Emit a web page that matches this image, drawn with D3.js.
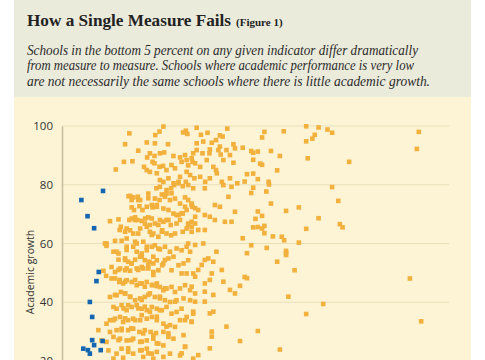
<!DOCTYPE html>
<html><head><meta charset="utf-8">
<script src="https://cdn.jsdelivr.net/npm/d3@7"></script>
<style>
html,body{margin:0;padding:0;background:#fff;}
svg{display:block;}
</style></head>
<body>
<svg id="chart" width="485" height="360"></svg>
<script>
const titleText = "How a Single Measure Fails";
const figText = "(Figure 1)";
const subtitleLines = [
  "Schools in the bottom 5 percent on any given indicator differ dramatically",
  "from measure to measure. Schools where academic performance is very low",
  "are not necessarily the same schools where there is little academic growth."
];
const yLabel = "Academic growth";
const yTicks = [20, 40, 60, 80, 100];

// bottom 5 percent on performance (blue)
const lowPerformance = [
  [5.0,74.8],[10.6,77.9],[6.6,69.3],[8.3,65.2],[9.5,50.3],[8.9,47.2],[7.2,40.1],
  [7.8,35.0],[7.8,27.1],[10.5,26.8],[8.3,25.4],[5.5,24.2],[6.7,23.7],[7.2,22.5],[10.0,23.7]
];

// all other schools (orange)
const otherSchools = [
  [26.2,99.8],[17.4,97.5],[24.1,96.9],[25.2,98.1],[31.3,97.8],[32.0,98.4],[32.4,97.3],[34.8,99.4],
  [35.9,97.0],[37.6,97.7],[40.8,96.8],[41.5,96.4],[42.7,99.1],[24.0,94.1],[27.4,93.8],[16.3,93.8],
  [21.9,94.4],[34.8,94.1],[36.5,94.7],[38.7,94.3],[39.8,95.2],[44.3,93.8],[40.8,93.0],[44.7,92.4],
  [19.7,91.6],[22.7,90.7],[22.0,89.3],[23.9,89.8],[25.3,90.7],[26.4,91.0],[28.8,89.8],[30.5,89.3],
  [31.8,90.1],[33.5,89.0],[33.9,90.7],[34.8,91.8],[36.3,90.7],[38.1,90.7],[38.2,92.0],[40.4,91.8],
  [41.0,90.3],[42.5,91.8],[43.4,90.1],[16.0,87.8],[18.2,88.0],[21.2,86.1],[23.4,87.8],[23.9,87.3],
  [25.2,86.1],[26.1,86.4],[27.0,85.0],[28.3,86.7],[29.2,85.6],[30.9,87.8],[32.2,88.4],[32.6,86.6],
  [33.7,87.8],[34.4,87.3],[35.7,86.1],[37.4,88.4],[39.1,86.1],[39.8,85.0],[41.7,88.4],[44.3,87.5],
  [13.9,85.2],[21.9,85.0],[22.7,84.4],[24.5,83.9],[25.3,81.6],[26.2,81.0],[27.5,82.2],[28.8,80.5],
  [30.1,81.0],[30.5,82.7],[32.2,84.4],[33.1,83.3],[34.2,82.2],[35.7,82.7],[37.0,81.0],[38.2,82.2],
  [40.0,83.9],[41.3,81.0],[43.4,82.2],[45.3,80.5],[24.4,78.8],[27.0,78.2],[28.2,78.8],[29.0,79.9],
  [31.2,79.5],[32.6,79.9],[33.9,78.8],[32.0,81.0],
  [17.2,76.1],[18.4,75.7],[19.6,75.9],[18.0,74.8],[20.2,74.8],[22.3,77.0],[24.0,75.3],[25.2,74.8],
  [25.8,76.7],[26.6,75.9],[27.0,77.0],[27.9,74.8],[29.2,75.3],[30.5,73.6],[31.8,75.7],[32.6,74.8],
  [33.5,73.6],
  [12.4,67.6],[14.6,68.2],[18.0,72.3],[18.6,71.4],[20.0,72.7],[20.8,71.4],[21.9,72.5],[23.2,73.1],
  [23.4,72.3],[24.5,72.5],[26.2,71.9],[27.5,71.4],[28.8,70.2],[30.1,69.7],[31.2,70.2],[32.2,71.4],
  [33.7,72.5],
  [17.4,68.0],[18.0,68.5],[18.9,68.9],[19.5,68.0],[20.6,67.7],[21.5,68.5],[22.3,68.9],[23.2,68.5],
  [24.0,66.8],[25.3,68.0],[26.2,67.4],[27.0,68.0],[28.1,66.3],[29.6,66.8],[30.5,68.0],[32.6,66.8],
  [33.5,67.4],[15.2,65.7],
  [16.3,64.0],[17.6,64.5],[18.4,63.4],[20.2,65.1],[21.9,65.7],[22.7,64.0],[23.6,63.4],[24.9,62.3],
  [25.9,64.5],[27.0,63.4],[28.2,62.8],[29.2,63.4],[31.2,64.0],[32.2,65.1],[33.5,64.0],
  [11.1,60.0],[11.5,59.2],[13.7,60.9],[15.4,60.9],
  [16.7,61.7],[19.3,60.0],[21.0,60.6],
  [13.3,57.2],[14.6,56.6],[16.7,58.9],[18.4,58.9],[19.3,57.2],[20.6,56.6],[21.9,57.7],[23.2,58.9],
  [24.0,59.4],[25.3,58.0],[26.6,58.9],[27.9,57.2],[29.6,58.3],[30.9,57.7],[32.2,58.9],[33.1,57.2],
  [14.6,54.5],[16.3,54.9],
  [17.1,53.8],[18.0,53.2],[18.9,54.5],[20.2,55.5],[21.4,54.3],[22.6,53.8],[23.6,55.5],[24.5,54.3],
  [26.2,53.2],[27.5,54.9],[28.8,55.5],[30.1,52.6],[31.4,53.2],[32.6,54.3],
  [12.8,52.0],[13.7,50.3],[15.0,51.5],[16.3,50.9],[17.6,50.7],
  [19.3,51.5],[20.6,52.0],[22.3,51.5],[23.6,50.3],[24.9,50.9],[25.9,52.6],[28.3,50.9],[30.9,49.8],
  [33.9,49.8],
  [10.7,50.7],[11.4,49.0],[13.7,48.1],[14.8,46.9],[15.8,46.4],[16.7,47.5],[18.0,46.9],[19.3,45.8],
  [20.6,46.4],[21.9,46.9],[23.4,45.8],[24.5,46.4],[25.3,45.2],[26.2,44.1],[27.0,44.7],[28.3,45.2],
  [29.2,43.5],[30.5,44.7],[31.8,45.8],[33.1,44.1],[12.4,41.8],[14.1,42.4],[15.2,43.5],[16.3,43.0],
  [17.6,41.8],[18.9,40.7],
  [20.2,41.3],[21.4,41.8],[22.7,43.0],[24.0,41.8],[25.3,41.3],[26.6,40.7],[27.9,40.1],[29.6,40.7],
  [31.4,41.3],[33.1,40.7],
  [13.3,38.4],[14.1,37.8],[15.4,39.0],[16.7,37.3],[18.0,38.4],[19.3,39.0],[20.6,37.8],[21.9,37.3],
  [23.2,38.4],[24.5,37.8],[25.8,37.3],[27.0,38.4],[28.3,36.1],[29.6,36.7],[30.9,37.8],[32.2,35.0],
  [33.9,36.1],[11.5,32.7],[12.4,33.9],[13.7,34.4],[15.0,35.0],
  [15.8,33.3],[17.1,33.9],[18.4,34.4],[20.2,33.9],[21.9,34.4],[23.2,35.0],[24.5,33.9],[26.2,32.7],
  [27.9,32.2],[29.2,31.6],[30.5,33.9],[33.5,33.3],[9.4,30.5],[12.4,29.9],
  [14.1,30.5],[15.4,31.0],[17.1,30.5],[18.4,31.0],[20.0,29.9],[21.4,30.5],[22.9,29.9],[24.3,29.5],
  [26.2,29.9],[27.5,28.2],[28.8,27.6],
  [10.2,27.0],[11.5,26.5],[13.3,28.2],[15.0,27.6],[16.7,27.0],[18.4,27.6],[20.2,26.5],[21.9,27.0],
  [23.6,27.6],[24.9,25.9],[26.2,25.3],[31.8,24.8],[12.0,23.6],[14.1,22.5],
  [15.4,24.2],[17.1,23.1],[18.4,22.5],[20.2,23.6],[21.9,24.2],[23.2,22.5],[24.5,23.1],[26.2,21.4],
  [27.9,22.5],[30.5,21.9],[33.9,20.8],[13.3,20.8],[15.8,21.1],[21.0,21.4],[23.6,20.8],
  // dense core, second reading
  [17.6,76.2],[19.7,74.8],[22.3,75.4],[24.5,73.1],[26.6,76.5],[28.3,77.1],[25.3,79.3],[30.1,80.5],
  [18.9,68.0],[21.4,66.8],[22.7,66.3],[24.9,66.3],[27.5,68.0],[29.6,69.7],[14.9,64.6],[16.7,65.1],
  [19.7,63.4],[23.2,62.9],[25.8,64.0],[11.5,60.0],[14.1,57.2],[16.7,57.8],[18.9,60.6],[21.9,58.9],
  [24.9,58.3],[16.3,54.4],[17.9,53.2],[20.6,55.5],[22.3,52.7],[23.6,53.2],[26.6,54.4],[14.6,51.0],
  [16.7,51.5],[19.7,51.0],[21.0,51.5],[23.6,49.3],[12.8,48.1],[14.9,47.6],[16.3,47.0],[18.9,47.6],
  [20.2,46.4],[21.4,45.3],[23.2,45.9],[24.5,45.5],[26.6,44.7],[13.7,42.5],[16.3,43.0],[17.6,41.9],
  [20.6,40.8],[22.3,42.5],[25.3,41.9],[29.2,40.2],[15.9,37.9],[17.1,39.0],[19.7,37.9],[21.4,38.5],
  [22.7,36.8],[25.3,37.3],[13.3,33.9],[16.3,34.5],[18.9,33.9],[20.6,35.6],[24.5,35.1],[27.0,31.7],
  [15.4,30.5],[17.9,31.1],[21.0,29.4],[23.6,28.8],[27.5,29.4],[14.6,27.1],[17.9,27.1],[20.6,26.6],
  [24.5,26.0],[17.1,24.3],[20.6,23.7],[22.3,22.6],
  // middle band
  [36.9,78.8],[41.7,79.9],[43.8,79.3],[43.0,75.9],[39.5,73.1],[40.8,72.5],[34.4,72.0],[31.8,72.5],
  [33.5,73.1],[35.2,71.4],[44.7,70.8],[36.9,69.7],[38.2,69.1],[39.5,68.0],[42.1,67.4],[43.8,67.4],
  [34.4,66.8],[32.6,66.3],[33.5,65.7],[35.2,64.6],[36.9,64.6],[30.9,70.3],[34.4,69.1],[32.6,60.0],
  [34.4,59.5],[36.5,60.0],[39.9,57.2],[37.8,54.9],[39.1,53.8],[41.3,51.0],[36.9,54.4],[36.1,52.7],
  [35.2,51.0],[34.4,48.7],[32.2,49.8],[38.7,49.8],[38.2,47.6],[36.9,46.4],[41.7,47.0],[43.4,44.2],
  [33.5,45.3],[34.4,43.0],[36.9,43.6],[39.1,42.5],[44.7,43.0],[34.4,40.2],[36.9,40.2],[38.2,36.2],
  [39.1,36.8],[33.9,36.8],[33.5,33.4],[42.5,31.7],[31.8,33.9],[31.4,28.8],[38.7,30.0],[38.7,28.3],
  [31.8,24.9],[38.2,24.3],[35.2,22.0],[30.9,22.6],
  // right-hand, sparser part
  [46.7,92.6],[48.9,91.5],[49.4,90.9],[50.6,91.3],[51.7,96.1],[52.3,98.0],[57.3,98.2],[63.1,99.9],
  [66.3,99.5],[68.6,98.8],[69.8,97.7],[65.3,97.0],[64.7,95.7],[63.1,94.8],[54.0,91.5],[56.3,89.8],
  [49.4,88.5],[51.2,87.2],[51.7,86.8],[63.5,89.0],[74.2,87.8],[55.6,84.9],[47.8,83.6],[49.4,83.8],
  [50.6,81.9],[47.2,81.1],[53.4,81.0],[53.5,80.1],[49.4,79.0],[52.8,77.7],[48.9,77.2],[69.8,79.2],
  [71.4,74.5],[54.0,73.6],[61.2,72.3],[57.9,71.1],[50.6,70.9],[51.7,69.4],[50.0,68.4],[66.3,68.6],
  [52.3,66.0],[49.4,65.5],[50.6,65.6],[51.7,65.1],[52.3,63.5],[63.1,65.0],[71.8,66.6],[72.5,65.5],
  [54.5,62.4],[56.8,62.3],[57.4,61.1],[46.7,61.8],[48.9,59.4],[61.2,60.3],[52.9,58.5],[47.8,56.7],
  [57.9,57.5],[57.9,56.8],[57.9,56.1],[55.6,53.8],[60.1,50.9],[47.2,48.6],[47.8,48.2],[46.0,45.6],
  [58.5,41.9],[67.5,39.4],[63.1,36.0],[50.6,30.2],[56.3,23.9],[46.0,26.8],[92.2,98.0],[91.7,92.2],
  [89.9,48.1],[92.8,33.5]
];

const W = 485, H = 360;
const svg = d3.select("#chart");

// backgrounds
svg.append("rect").attr("x",14).attr("y",0).attr("width",457).attr("height",97).attr("fill","#ebebdc");
svg.append("rect").attr("x",14).attr("y",97).attr("width",457).attr("height",H-97).attr("fill","#fdf4d5");

// title
const serif = "'Liberation Serif', 'DejaVu Serif', serif";
const title = svg.append("text").attr("x",27).attr("y",26)
  .attr("font-family",serif).attr("font-weight","bold").attr("font-size",17.2).attr("fill","#222")
  .text(titleText);
const tw = title.node().getComputedTextLength();
svg.append("text").attr("x",27 + tw + 5).attr("y",26)
  .attr("font-family",serif).attr("font-weight","bold").attr("font-size",11).attr("fill","#222")
  .text(figText);

const subLens = [391, 387, 403];
subtitleLines.forEach((line,i)=>{
  svg.append("text").attr("x",27).attr("y",54.5 + i*15.5)
    .attr("font-family",serif)
    .attr("font-style","italic").attr("font-size",13.6).attr("fill","#2a2a2a")
    .attr("textLength",subLens[i]).attr("lengthAdjust","spacingAndGlyphs")
    .text(line);
});

// scales
const x = d3.scaleLinear().domain([0,100]).range([62,449]);
const y = d3.scaleLinear().domain([20,100]).range([361,126]);

// gridlines
svg.append("g").selectAll("line").data(yTicks.filter(d=>d>20)).join("line")
  .attr("x1",62).attr("x2",449).attr("y1",d=>y(d)).attr("y2",d=>y(d))
  .attr("stroke","#e9dfbb").attr("stroke-width",1.2);

// y axis
const yAxis = d3.axisLeft(y).tickValues(yTicks).tickSize(0).tickPadding(9);
const ga = svg.append("g").attr("transform","translate(62,0)").call(yAxis);
ga.select(".domain").attr("stroke","#c9c0a2").attr("stroke-width",1.6);
ga.selectAll("text").attr("font-family","'Open Sans', Lato, sans-serif").attr("font-size",11.5).attr("fill","#333");

svg.append("text").attr("transform","translate(34,272) rotate(-90)")
  .attr("text-anchor","middle").attr("font-family","'Open Sans', Lato, sans-serif")
  .attr("font-size",10.5).attr("fill","#333").text(yLabel);

// points
const s = 4.6;
svg.append("g").selectAll("rect").data(otherSchools).join("rect")
  .attr("x",d=>x(d[0])-s/2).attr("y",d=>y(d[1])-s/2).attr("width",s).attr("height",s)
  .attr("fill","#f2b03c");
svg.append("g").selectAll("rect").data(lowPerformance).join("rect")
  .attr("x",d=>x(d[0])-s/2).attr("y",d=>y(d[1])-s/2).attr("width",s).attr("height",s)
  .attr("fill","#1466b1");
</script>
</body></html>
